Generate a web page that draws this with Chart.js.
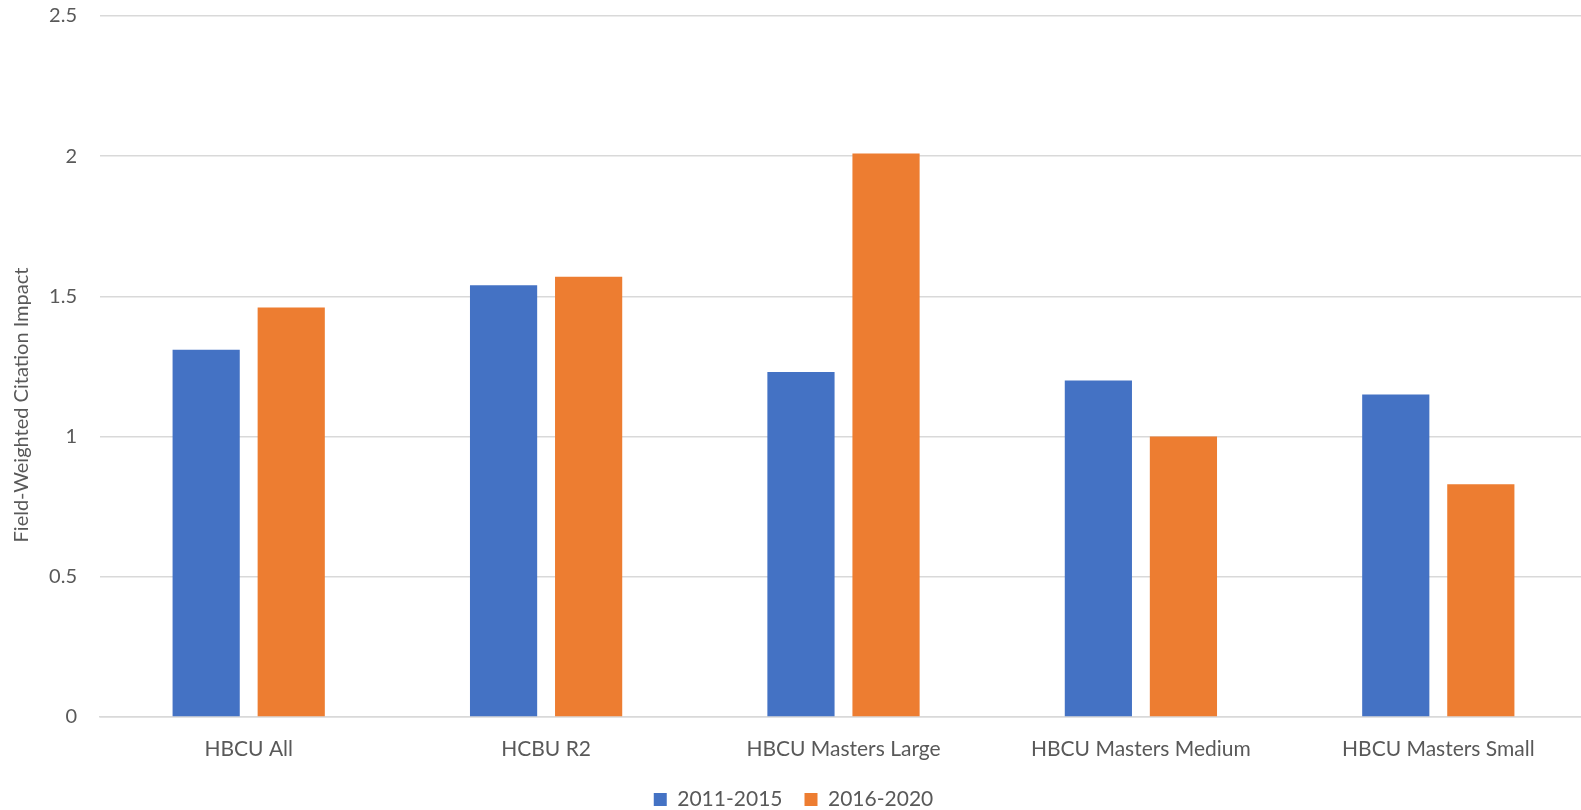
<!DOCTYPE html>
<html>
<head>
<meta charset="utf-8">
<script src="https://cdn.jsdelivr.net/npm/chart.js@4/dist/chart.umd.min.js"></script>
<style>
  html, body { margin: 0; padding: 0; background: #fff; overflow: hidden; }
  #wrap { width: 1587px; height: 810px; position: relative; }
</style>
</head>
<body>
<div id="wrap"><canvas id="myChart"></canvas></div>
<script>
// groups and values
var groups = ["HBCU All", "HCBU R2", "HBCU Masters Large", "HBCU Masters Medium", "HBCU Masters Small"];
var period1 = "2011-2015";
var period2 = "2016-2020";
var fwci_2011_2015 = [1.31, 1.54, 1.23, 1.20, 1.15];
var fwci_2016_2020 = [1.46, 1.57, 2.01, 1.00, 0.83];
var yTicks = [0, 0.5, 1, 1.5, 2, 2.5];
var yTitle = "Field-Weighted Citation Impact";

var textColor = "#595959";
var gridColor = "#d9d9d9";
var font = "Lato, 'Open Sans', sans-serif";

// y axis title, centred on the whole canvas height rather than the plot
var yTitlePlugin = {
  id: 'yTitle',
  afterDraw: function(chart) {
    var c = chart.ctx;
    c.save();
    c.translate(22, chart.height / 2);
    c.rotate(-Math.PI / 2);
    c.fillStyle = textColor;
    c.font = "20px " + font;
    c.textAlign = 'center';
    c.textBaseline = 'middle';
    c.fillText(yTitle, 0, 0);
    c.restore();
  }
};

var ctx = document.getElementById('myChart').getContext('2d');
var myChart = new Chart(ctx, {
  type: 'bar',
  data: {
    labels: groups,
    datasets: [
      { label: period1, data: fwci_2011_2015, backgroundColor: "#4472c4" },
      { label: period2, data: fwci_2016_2020, backgroundColor: "#ed7d31" }
    ]
  },
  plugins: [yTitlePlugin],
  options: {
    responsive: true,
    maintainAspectRatio: false,
    animation: false,
    layout: { padding: { top: 16, right: 0, left: 0, bottom: -10 } },
    datasets: {
      bar: { categoryPercentage: 0.572, barPercentage: 0.79 }
    },
    plugins: {
      legend: {
        position: 'bottom',
        labels: {
          color: textColor,
          font: { family: font, size: 21 },
          boxWidth: 13,
          boxHeight: 13,
          padding: 22
        }
      },
      tooltip: { enabled: false }
    },
    scales: {
      x: {
        grid: { display: false, drawTicks: false },
        border: { color: gridColor, width: 1.5 },
        ticks: { color: textColor, font: { family: font, size: 21 }, padding: 20 },
        afterFit: function(scale) { scale.height = 50; }
      },
      y: {
        min: 0,
        max: 2.5,
        afterBuildTicks: function(scale) {
          scale.ticks = yTicks.map(function(v) { return { value: v }; });
        },
        // invisible tick marks keep the labels off the plot without extra top padding
        grid: { color: gridColor, lineWidth: 1.5, drawTicks: true, tickLength: 23, tickColor: 'rgba(0,0,0,0)' },
        border: { display: false },
        ticks: {
          color: textColor,
          font: { family: font, size: 20 },
          padding: 0,
          callback: function(v) { return String(v); }
        },
        afterFit: function(scale) { scale.width = 100; }
      }
    }
  }
});
</script>
</body>
</html>
